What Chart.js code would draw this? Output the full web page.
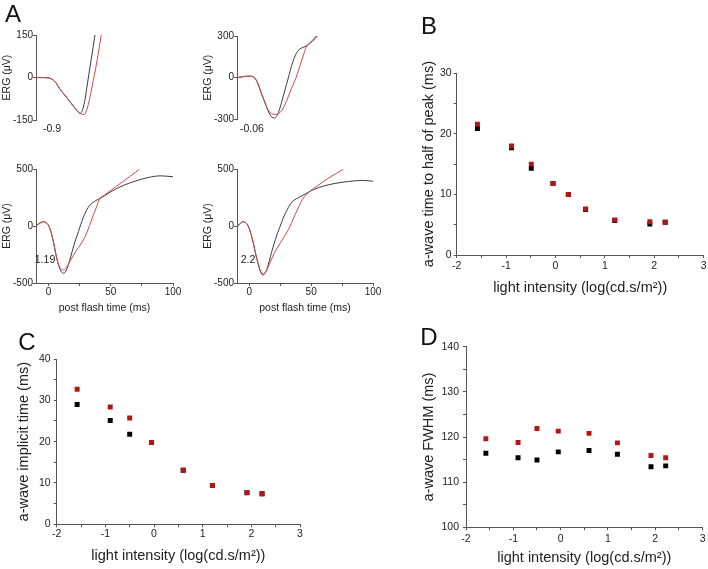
<!DOCTYPE html>
<html lang="en">
<head>
<meta charset="UTF-8">
<title>a-wave kinetics</title>
<style>
  body { margin: 0; background: #fff; }
  #fig { position: relative; width: 708px; height: 569px; overflow: hidden;
         font-family: "Liberation Sans", Arial, sans-serif; color: #222; }
  #fig canvas { position: absolute; left: 0; top: 0; }
  .lbl { position: absolute; transform: translate(-50%, -50%); white-space: nowrap; line-height: 1; }
  .panel { font-size: 24px; color: #111; }
  .note { font-size: 10.5px; }
</style>
</head>
<body>
<div id="fig">
  <div class="lbl panel" style="left:13px;top:14px">A</div>
  <div class="lbl panel" style="left:429px;top:26px">B</div>
  <div class="lbl panel" style="left:27px;top:342px">C</div>
  <div class="lbl panel" style="left:429px;top:337px">D</div>
  <div class="lbl note" style="left:52px;top:128px">-0.9</div>
  <div class="lbl note" style="left:252px;top:128px">-0.06</div>
  <div class="lbl note" style="left:45px;top:259px">1.19</div>
  <div class="lbl note" style="left:248px;top:259px">2.2</div>
</div>

<script src="https://cdn.jsdelivr.net/npm/chart.js"></script>
<script>
// ---- panel A: ERG traces (time in ms, ERG in uV), black = control, red = treated
const i09TimeBlack = [-10,-5,0,3,6,9,12,15,18,21,23,25.5,27,29,31,33,35,37,38.5];
const i09Black     = [0,0,-1,-6,-18,-39,-56,-72,-89,-106,-117,-126,-118,-85,-30,27,83,140,180];
const i09TimeRed   = [-10,-5,0,3,6,9,12,15,18,21,23,25,27,28.5,30,32,34,36,38,40,42,43.5];
const i09Red       = [0,0,-1,-6,-18,-39,-56,-72,-89,-106,-117,-125,-129,-130,-122,-95,-55,-10,35,85,140,180];

const i006TimeBlack = [-10,-6,-2,1,4,6,8,10,12,14,16,18,20,22,24,26,28,30,32,34,36,38,40,42,44,46,48,51,55];
const i006Black     = [0,5,10,10,0,-25,-70,-120,-165,-215,-255,-283,-292,-280,-240,-180,-115,-50,15,80,135,175,200,212,220,228,240,262,300];
const i006TimeRed   = [-10,-6,-2,1,4,6,8,10,12,14,16,18,20,22,24,26,28,30,32,34,36,38,40,42,44,46,48,51,54];
const i006Red       = [0,5,10,10,0,-25,-70,-120,-165,-212,-245,-258,-265,-266,-258,-240,-210,-170,-125,-80,-38,5,60,115,170,220,245,268,300];

const i119TimeBlack = [-10,-7,-4,-2,0,2,4,6,8,10,12,14,16,18,20,22,24,26,28,30,32,35,40,45,50,55,60,70,80,90,100];
const i119Black     = [0,25,38,30,5,-50,-140,-250,-340,-395,-415,-395,-340,-265,-185,-115,-50,15,75,125,165,200,235,265,300,330,355,395,425,440,432];
const i119TimeRed   = [-10,-7,-4,-2,0,2,4,6,8,10,12,14,16,18,20,22,24,26,28,30,32,34,36,38,41,45,50,55,60,65,70,73];
const i119Red       = [0,25,38,30,5,-50,-140,-250,-335,-375,-385,-370,-335,-295,-258,-222,-190,-158,-122,-78,-25,35,95,150,235,272,312,352,392,432,472,497];

const i22TimeBlack = [-10,-7,-5,-3,-1,1,3,5,7,9,11,13,15,17,19,21,23,25,27,30,33,36,40,45,52,60,70,80,92,100];
const i22Black     = [-5,25,38,30,0,-60,-140,-240,-330,-400,-430,-410,-350,-270,-190,-120,-55,0,60,130,190,225,250,280,320,350,375,390,400,392];
const i22TimeRed   = [-10,-7,-5,-3,-1,1,3,5,7,9,11,13,15,17,19,21,23,25,27,29,31,33,35,37,40,43,46,49,52,58,64,70,76];
const i22Red       = [-5,25,38,30,0,-60,-140,-240,-325,-390,-420,-405,-365,-315,-265,-220,-185,-150,-115,-80,-40,0,50,100,170,235,275,305,330,375,420,460,497];

// ---- panels B-D: light intensity (log cd.s/m2)
const intensityB  = [-1.58,-0.89,-0.49,-0.05,0.26,0.61,1.2,1.91,2.22];
const halfPeakBlack = [20.9,17.7,14.3,11.8,10.0,7.5,5.7,5.1,5.4];
const halfPeakRed   = [21.6,18.0,15.0,11.8,10.0,7.6,5.8,5.5,5.4];

const intensityCD = [-1.58,-0.9,-0.5,-0.05,0.6,1.2,1.91,2.22];
const implicitBlack = [29.0,25.1,21.8,19.8,13.1,9.4,7.6,7.4];
const implicitRed   = [32.7,28.4,25.7,19.8,13.1,9.4,7.7,7.4];
const fwhmBlack = [116.4,115.4,114.9,116.7,117.0,116.2,113.4,113.6];
const fwhmRed   = [119.6,118.8,121.9,121.3,120.8,118.7,115.9,115.4];

// ---- ticks
const timeTicks = [0,25,50,75,100];
const timeLabels = [0,50,100];
const logTicks = [-2,-1.5,-1,-0.5,0,0.5,1,1.5,2,2.5,3];
const logLabels = [-2,-1,0,1,2,3];
const halfPeakTicks = [0,5,10,15,20,25,30];
const halfPeakLabels = [0,10,20,30];
const implicitTicks = [0,5,10,15,20,25,30,35,40];
const implicitLabels = [0,10,20,30,40];
const fwhmTicks = [100,105,110,115,120,125,130,135,140];
const fwhmLabels = [100,110,120,130,140];

const W = 708, H = 569;
const fig = document.getElementById('fig');
Chart.defaults.font.family = '"Liberation Sans", Arial, sans-serif';
Chart.defaults.color = '#222';

function axis(o) {
  return {
    type: 'linear', min: o.min, max: o.max, display: o.display !== false,
    afterBuildTicks: s => { s.ticks = o.ticks.map(v => ({value: v})); },
    afterFit: s => { if (o.horiz) s.height = o.size; else s.width = o.size; },
    grid: { drawOnChartArea: false, drawTicks: true, tickLength: 3, tickColor: '#555' },
    border: { display: true, color: '#555', width: 1 },
    ticks: { font: {size: o.tickFont}, padding: o.tickPad, color: '#222', autoSkip: false, maxRotation: 0,
             callback: v => o.labels.includes(v) ? String(v) : '' },
    title: { display: !!o.title, text: o.title, color: '#222', font: {size: o.titleFont},
             padding: {top: o.titlePad || 0, bottom: 0} }
  };
}

function curve(t, v, color) {
  return { data: t.map((x, i) => ({x, y: v[i]})), showLine: true, borderColor: color, borderWidth: 1,
           pointRadius: 0, cubicInterpolationMode: 'monotone', fill: false };
}

function dots(xv, yv, color) {
  return { data: xv.map((x, i) => ({x, y: yv[i]})), showLine: false, pointStyle: 'rect',
           pointRadius: 3.5, pointBackgroundColor: color, pointBorderWidth: 0 };
}

function panel(box, datasets, xs, ys) {
  const c = document.createElement('canvas');
  c.width = W; c.height = H;
  fig.insertBefore(c, fig.firstChild);
  return new Chart(c, {
    type: 'scatter',
    data: { datasets },
    options: {
      responsive: false, animation: false, devicePixelRatio: 1,
      layout: { padding: { left: box.l - box.yw, top: box.t, right: W - box.r, bottom: H - box.b - box.xh } },
      plugins: { legend: {display: false}, tooltip: {enabled: false} },
      scales: { x: xs, y: ys }
    }
  });
}

const RED_LINE = '#d04848', BLACK_LINE = '#3c3c3c';
const RED_DOT = '#b41616', BLACK_DOT = '#000';

function ergX(show) {
  return axis({min: -10, max: 100, ticks: timeTicks, labels: timeLabels, horiz: true, display: show,
               size: 31.8, tickFont: 10, tickPad: 0.5, title: 'post flash time (ms)', titleFont: 10.5});
}
function ergY(lim, pad) {
  return axis({min: -lim, max: lim, ticks: [-lim, 0, lim], labels: [-lim, 0, lim], size: 36,
               tickFont: 10, tickPad: 0, title: 'ERG (\u03BCV)', titleFont: 10.5, titlePad: pad});
}

// panel A
panel({l: 36, r: 173, t: 35, b: 152, yw: 36, xh: 0},
  [curve(i09TimeRed, i09Red, RED_LINE), curve(i09TimeBlack, i09Black, BLACK_LINE)],
  ergX(false), ergY(150, 1.2));
panel({l: 237, r: 373, t: 36, b: 151, yw: 36, xh: 0},
  [curve(i006TimeRed, i006Red, RED_LINE), curve(i006TimeBlack, i006Black, BLACK_LINE)],
  ergX(false), ergY(300, 1));
panel({l: 36, r: 173, t: 169, b: 283, yw: 36, xh: 31.8},
  [curve(i119TimeRed, i119Red, RED_LINE), curve(i119TimeBlack, i119Black, BLACK_LINE)],
  ergX(true), ergY(500, 1.2));
panel({l: 237, r: 373, t: 169, b: 283, yw: 36, xh: 31.8},
  [curve(i22TimeRed, i22Red, RED_LINE), curve(i22TimeBlack, i22Black, BLACK_LINE)],
  ergX(true), ergY(500, 1));

const lightTitle = 'light intensity (log(cd.s/m\u00B2))';

// panel B
panel({l: 456.7, r: 704.3, t: 73.3, b: 255, yw: 36.7, xh: 41.4},
  [dots(intensityB, halfPeakRed, RED_DOT), dots(intensityB, halfPeakBlack, BLACK_DOT)],
  axis({min: -2, max: 3, ticks: logTicks, labels: logLabels, horiz: true, size: 41.4,
        tickFont: 10.5, tickPad: 1.4, title: lightTitle, titleFont: 14.5}),
  axis({min: 0, max: 30, ticks: halfPeakTicks, labels: halfPeakLabels, size: 36.7,
        tickFont: 10.5, tickPad: 2, title: 'a-wave time to half of peak (ms)', titleFont: 14.5}));

// panel C
panel({l: 56.7, r: 300, t: 359, b: 524.3, yw: 41.7, xh: 40.8},
  [dots(intensityCD, implicitRed, RED_DOT), dots(intensityCD, implicitBlack, BLACK_DOT)],
  axis({min: -2, max: 3, ticks: logTicks, labels: logLabels, horiz: true, size: 40.8,
        tickFont: 10.5, tickPad: 0.5, title: lightTitle, titleFont: 14.5}),
  axis({min: 0, max: 40, ticks: implicitTicks, labels: implicitLabels, size: 41.7,
        tickFont: 10.5, tickPad: 3, title: 'a-wave implicit time (ms)', titleFont: 14.5}));

// panel D
panel({l: 466, r: 705, t: 346.7, b: 527.3, yw: 46, xh: 39.1},
  [dots(intensityCD, fwhmRed, RED_DOT), dots(intensityCD, fwhmBlack, BLACK_DOT)],
  axis({min: -2, max: 3, ticks: logTicks, labels: logLabels, horiz: true, size: 39.1,
        tickFont: 10.5, tickPad: 2.5, title: lightTitle, titleFont: 14.5}),
  axis({min: 100, max: 140, ticks: fwhmTicks, labels: fwhmLabels, size: 46,
        tickFont: 10.5, tickPad: 4, title: 'a-wave FWHM (ms)', titleFont: 14.5}));
</script>
</body>
</html>
